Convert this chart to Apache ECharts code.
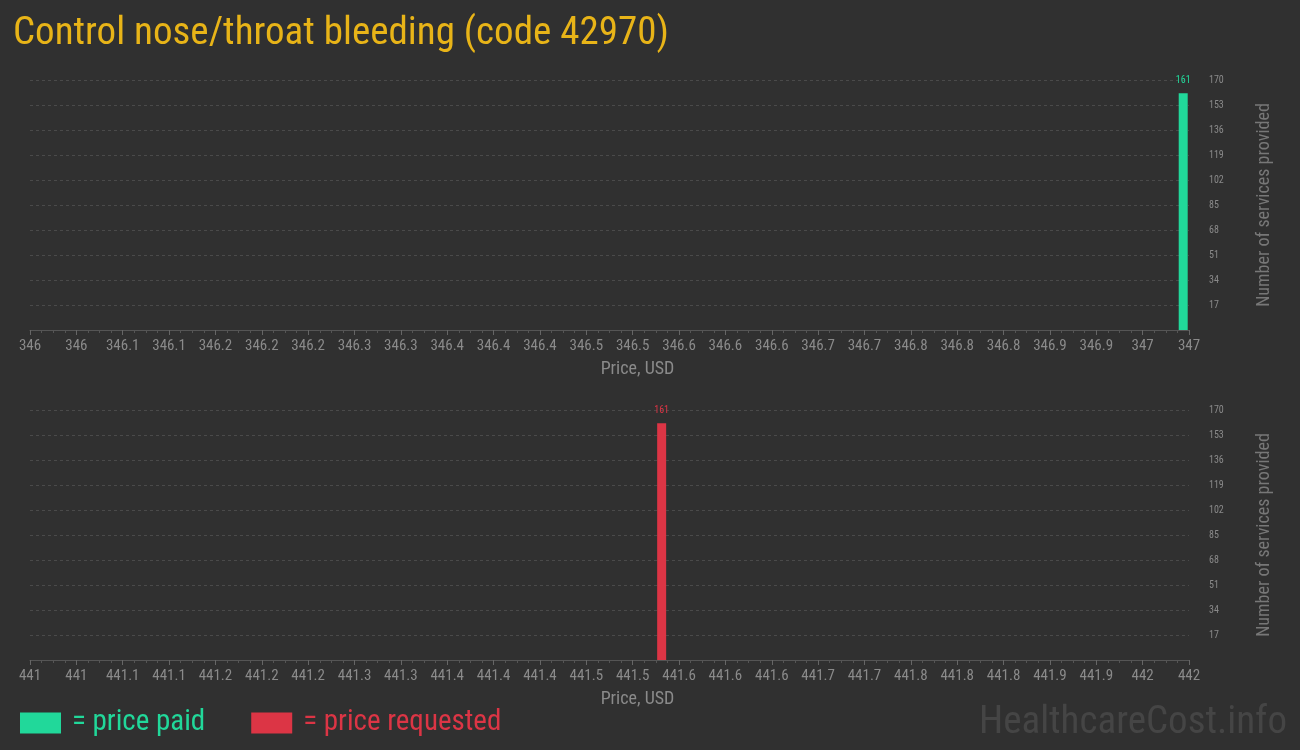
<!DOCTYPE html>
<html><head><meta charset="utf-8">
<script src="https://cdn.jsdelivr.net/npm/echarts@6/dist/echarts.min.js"></script>
<style>html,body{margin:0;padding:0;background:#303030;}#c{width:1300px;height:750px;}</style>
</head><body><div id="c"></div>
<script>
const titleText = 'Control nose/throat bleeding (code 42970)';
const paidPrices = [346.995];
const paidCounts = [161];
const requestedPrices = [441.545];
const requestedCounts = [161];
const paidRange = [346, 347];
const requestedRange = [441, 442];
const yMax = 170, yStep = 17;
const xStep = 0.04;

const FONT = '"Roboto Condensed",Roboto,sans-serif';
const GREEN = '#21d89a', RED = '#dc3545', AXISC = '#8a8a8a';

function xAxis(gi, range) {
  return {
    type: 'value', gridIndex: gi, min: range[0], max: range[1], interval: xStep,
    name: 'Price, USD', nameLocation: 'middle', nameGap: 30,
    nameTextStyle: {color: AXISC, fontSize: 18, fontFamily: FONT, padding: [0, 0, 0, 56]},
    axisLine: {show: true, lineStyle: {color: '#555'}},
    axisTick: {show: true, length: 5, lineStyle: {color: '#666'}},
    minorTick: {show: true, splitNumber: 4, length: 3, lineStyle: {color: '#555'}},
    splitLine: {show: false},
    axisLabel: {color: AXISC, fontSize: 15, fontFamily: FONT, margin: 9,
      formatter: v => String(+(+v).toFixed(1))}
  };
}
function yAxis(gi) {
  return {
    type: 'value', gridIndex: gi, position: 'right', min: 0, max: yMax, interval: yStep,
    name: 'Number of services provided', nameLocation: 'middle', nameGap: 66, nameRotate: 90,
    nameTextStyle: {color: '#777', fontSize: 18, fontFamily: FONT},
    axisLine: {show: false}, axisTick: {show: false},
    axisLabel: {color: AXISC, fontSize: 10, fontFamily: FONT, margin: 20, showMinLabel: false},
    splitLine: {show: true, lineStyle: {color: '#4a4a4a', type: [3, 3]}}
  };
}
function barSeries(name, gi, xs, ys, color) {
  return {
    name, type: 'bar', xAxisIndex: gi, yAxisIndex: gi, barWidth: 9,
    data: xs.map((x, i) => [x, ys[i]]),
    itemStyle: {color},
    label: {show: true, position: 'top', color, fontSize: 10, fontFamily: FONT, distance: 8},
    emphasis: {disabled: true}
  };
}

const chart = echarts.init(document.getElementById('c'));
chart.setOption({
  backgroundColor: '#303030',
  animation: false,
  title: {text: titleText, left: 13, top: 15, padding: 0,
    textStyle: {color: '#e8b418', fontSize: 39, fontWeight: 'normal', fontFamily: FONT}},
  legend: {
    left: 20, top: 706, padding: 0, itemWidth: 41, itemHeight: 21, itemGap: 46,
    icon: 'rect', selectedMode: false,
    formatter: n => '= ' + n,
    textStyle: {fontSize: 29, fontFamily: FONT, lineHeight: 34, padding: [0, 0, 0, 6]},
    data: [
      {name: 'price paid', textStyle: {color: GREEN}},
      {name: 'price requested', textStyle: {color: RED}}
    ]
  },
  graphic: [{type: 'text', right: 13, top: 704,
    style: {text: 'HealthcareCost.info', fill: '#454545', fontSize: 39, fontFamily: FONT}}],
  grid: [
    {left: 30, right: 111, top: 80, height: 250},
    {left: 30, right: 111, top: 410, height: 250}
  ],
  xAxis: [xAxis(0, paidRange), xAxis(1, requestedRange)],
  yAxis: [yAxis(0), yAxis(1)],
  series: [
    barSeries('price paid', 0, paidPrices, paidCounts, GREEN),
    barSeries('price requested', 1, requestedPrices, requestedCounts, RED)
  ]
});
</script></body></html>
